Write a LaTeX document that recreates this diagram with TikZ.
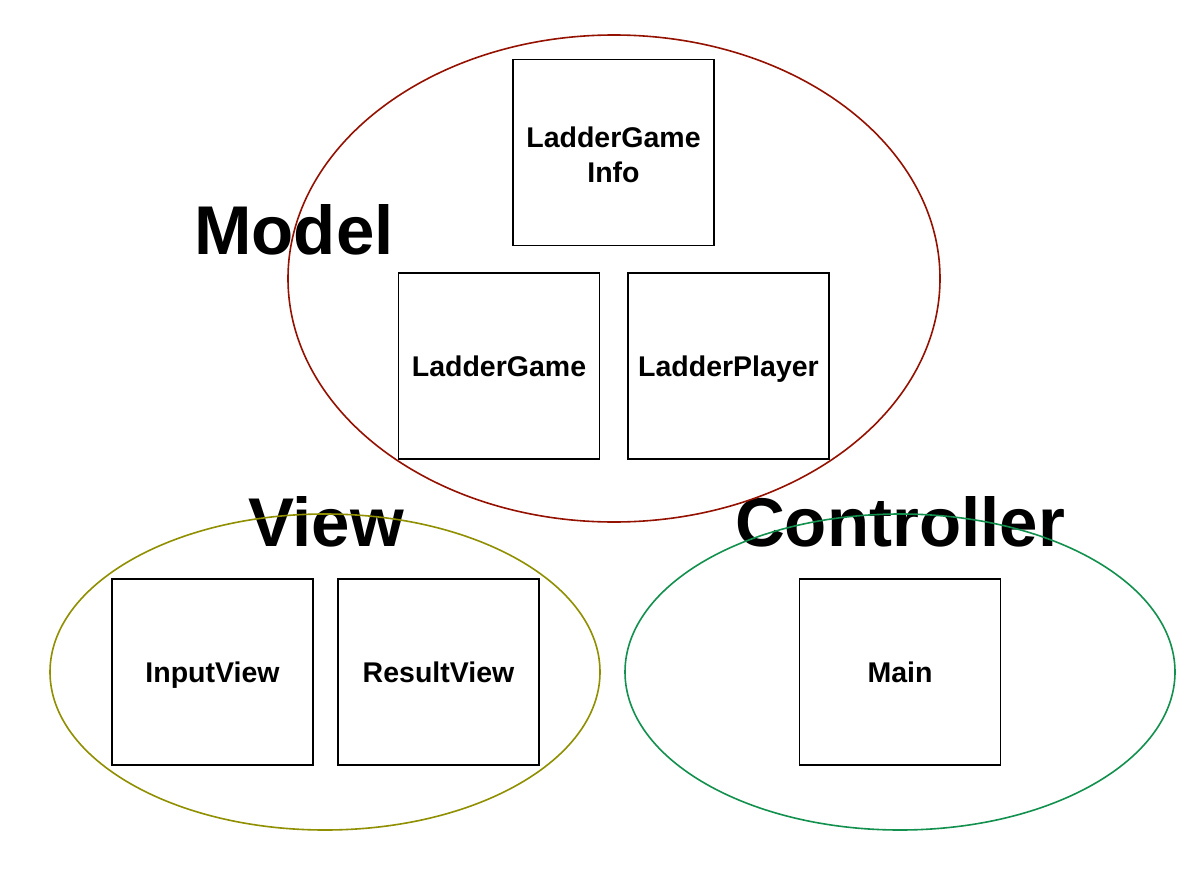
\documentclass[tikz,border=0pt]{standalone}
\usepackage{fontspec}
\setmainfont{Liberation Sans}
\usetikzlibrary{shapes.geometric}
\definecolor{modelred}{HTML}{941100}
\definecolor{viewolive}{HTML}{8F8F00}
\definecolor{ctrlgreen}{HTML}{12904E}
\begin{document}
\begin{tikzpicture}[x=1pt,y=-1pt,
  cls/.style={draw=black,line width=1.6pt,minimum width=201pt,minimum height=186pt,inner sep=0pt,font=\fontsize{28.5}{35}\selectfont\bfseries,align=center,text height=20.5pt,text depth=0pt},
  clstext/.style={inner sep=0pt,font=\fontsize{28.5}{35}\selectfont\bfseries,anchor=base},
  grp/.style={ellipse,line width=1.6pt,inner sep=0pt},
  glabel/.style={font=\fontsize{69}{70}\selectfont\bfseries,inner sep=0pt}]
\useasboundingbox (0,0) rectangle (1192,870);
\fill[white] (0,0) rectangle (1192,870);
% labels (drawn under the ellipses)
\node[glabel] (lmodel) at (294,230) {Model};
\node[glabel] (lview) at (326,522) {View};
\node[glabel] (lctrl) at (900,522) {Controller};
% groups
\node[grp,draw=modelred,minimum width=652pt,minimum height=487pt] (model) at (614,278.5) {};
\node[grp,draw=viewolive,minimum width=550pt,minimum height=316pt] (view) at (325,672) {};
\node[grp,draw=ctrlgreen,minimum width=550pt,minimum height=316pt] (ctrl) at (900,672) {};
% classes
\node[cls] (info) at (613.5,152.5) {};
\node[clstext] (infoA) at (613.5,147.5) {LadderGame};
\node[clstext] (infoB) at (613.5,182.5) {Info};
\node[cls] (game) at (499,366) {LadderGame};
\node[cls] (player) at (728.5,366) {LadderPlayer};
\node[cls] (input) at (212.5,672) {InputView};
\node[cls] (result) at (438.5,672) {ResultView};
\node[cls] (main) at (900,672) {Main};
\end{tikzpicture}
\end{document}
